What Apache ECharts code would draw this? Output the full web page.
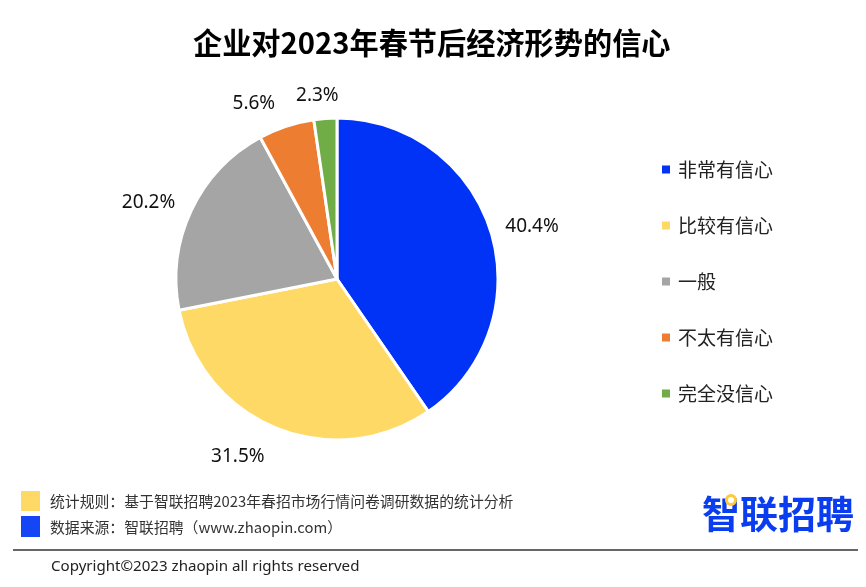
<!DOCTYPE html>
<html>
<head>
<meta charset="utf-8">
<script src="https://cdn.jsdelivr.net/npm/echarts@6/dist/echarts.min.js"></script>
<style>
html, body { margin: 0; padding: 0; background: #fff; }
#chart { width: 866px; height: 587px; }
</style>
</head>
<body>
<div id="chart"></div>
<script>
const categories = ['非常有信心', '比较有信心', '一般', '不太有信心', '完全没信心'];
const values = [40.4, 31.5, 20.2, 5.6, 2.3];
const colors = ['#0033f5', '#ffd966', '#a5a5a5', '#ed7d31', '#70ad47'];
const titleText = '企业对2023年春节后经济形势的信心';
const noteRule = '统计规则：基于智联招聘2023年春招市场行情问卷调研数据的统计分析';
const noteSource = '数据来源：智联招聘（www.zhaopin.com）';
const copyrightText = 'Copyright©2023 zhaopin all rights reserved';
const logoText = '智联招聘';

// nudges for the pie labels, the source places them by hand
const labelNudges = [[0, -2], [-3, 19], [-2, -4], [-3, -13], [19, -13]];

const font = '"Noto Sans CJK SC", "Noto Sans", sans-serif';
const myChart = echarts.init(document.getElementById('chart'));

myChart.setOption({
    animation: false,
    backgroundColor: '#fff',
    title: {
        text: titleText,
        left: 188,
        top: 23,
        textStyle: { fontFamily: font, fontSize: 29.2, fontWeight: 'bold', color: '#000' }
    },
    legend: {
        orient: 'vertical',
        left: 657,
        top: 155,
        icon: 'rect',
        itemWidth: 8,
        itemHeight: 8,
        itemGap: 37,
        selectedMode: false,
        data: categories,
        itemStyle: { borderWidth: 0 },
        textStyle: { fontFamily: font, fontSize: 19, color: '#222', padding: [0, 0, 0, 3] }
    },
    series: [{
        type: 'pie',
        center: [337, 279],
        radius: [0, 161],
        startAngle: 90,
        clockwise: true,
        avoidLabelOverlap: false,
        data: categories.map((name, i) => ({
            name: name,
            value: values[i],
            itemStyle: { color: colors[i] }
        })),
        itemStyle: { borderColor: '#fff', borderWidth: 3 },
        label: {
            show: true,
            position: 'outside',
            formatter: p => p.value.toFixed(1) + '%',
            fontFamily: '"Noto Sans", sans-serif',
            fontSize: 19,
            color: '#111'
        },
        labelLine: { show: false, length: 10, length2: 0 },
        labelLayout: p => ({ dx: labelNudges[p.dataIndex][0], dy: labelNudges[p.dataIndex][1] })
    }],
    graphic: [
        { type: 'rect', shape: { x: 21, y: 491, width: 19, height: 20 }, style: { fill: '#ffd966' } },
        { type: 'rect', shape: { x: 21, y: 516, width: 19, height: 21 }, style: { fill: '#1446f5' } },
        { type: 'text', x: 50, y: 501, style: { text: noteRule, fontFamily: font, fontSize: 14.85, fill: '#333', verticalAlign: 'middle' } },
        { type: 'text', x: 50, y: 527, style: { text: noteSource, fontFamily: font, fontSize: 14.85, fill: '#333', verticalAlign: 'middle' } },
        { type: 'text', x: 702, y: 514, style: { text: logoText, fontFamily: font, fontSize: 38, fontWeight: 'bold', fill: '#0a3cf0', verticalAlign: 'middle' } },
        { type: 'circle', shape: { cx: 731, cy: 500, r: 4.5 }, style: { fill: '#fff', stroke: '#ffc93c', lineWidth: 3 } },
        { type: 'line', shape: { x1: 13, y1: 550, x2: 858, y2: 550 }, style: { stroke: '#333', lineWidth: 1.5 } },
        { type: 'text', x: 51, y: 566.5, style: { text: copyrightText, fontFamily: '"Noto Sans", sans-serif', fontSize: 15.1, fill: '#222', verticalAlign: 'middle' } }
    ]
});
</script>
</body>
</html>
